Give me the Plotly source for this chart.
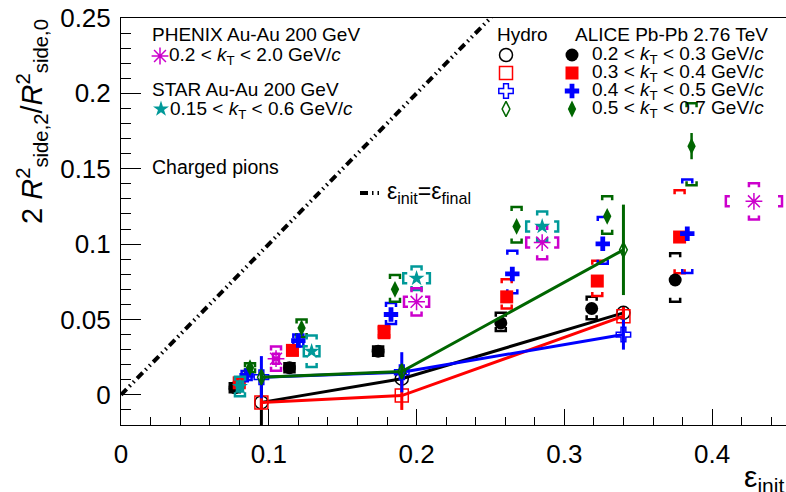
import plotly.graph_objects as go

# ---------------- data ----------------
# ALICE Pb-Pb 2.76 TeV (filled markers), four kT bins
alice_labels = ["0.2 < <i>k</i><sub>T</sub> < 0.3 GeV/<i>c</i>",
                "0.3 < <i>k</i><sub>T</sub> < 0.4 GeV/<i>c</i>",
                "0.4 < <i>k</i><sub>T</sub> < 0.5 GeV/<i>c</i>",
                "0.5 < <i>k</i><sub>T</sub> < 0.7 GeV/<i>c</i>"]
alice_kt1_x = [0.077, 0.114, 0.174, 0.257, 0.3185, 0.375]
alice_kt1_y = [0.0047, 0.018, 0.029, 0.0477, 0.0573, 0.0762]
alice_kt1_stat = [0.001, 0.001, 0.001, 0.002, 0.002, 0.003]
alice_kt1_sys_up = [0.003, 0.003, 0.003, 0.0067, 0.0077, 0.0178]
alice_kt1_sys_dn = [0.003, 0.003, 0.003, 0.0053, 0.0071, 0.0144]

alice_kt2_x = [0.080, 0.116, 0.178, 0.261, 0.3223, 0.378]
alice_kt2_y = [0.008, 0.0295, 0.0417, 0.065, 0.0755, 0.1047]
alice_kt2_stat = [0.001, 0.001, 0.001, 0.002, 0.002, 0.003]
alice_kt2_sys_up = [0.003, 0.003, 0.004, 0.0117, 0.0134, 0.031]
alice_kt2_sys_dn = [0.003, 0.003, 0.004, 0.0077, 0.010, 0.024]

alice_kt3_x = [0.085, 0.120, 0.1827, 0.2648, 0.326, 0.3832]
alice_kt3_y = [0.0129, 0.036, 0.0533, 0.0802, 0.1002, 0.1069]
alice_kt3_stat = [0.001, 0.001, 0.002, 0.002, 0.003, 0.004]
alice_kt3_sys_up = [0.003, 0.004, 0.0077, 0.0154, 0.0178, 0.036]
alice_kt3_sys_dn = [0.003, 0.004, 0.0063, 0.0128, 0.0133, 0.026]

alice_kt4_x = [0.0873, 0.1222, 0.1854, 0.2677, 0.329, 0.3861]
alice_kt4_y = [0.018, 0.0444, 0.070, 0.1117, 0.1184, 0.165]
alice_kt4_stat = [0.001, 0.002, 0.002, 0.003, 0.003, 0.0087]
alice_kt4_sys_up = [0.003, 0.0056, 0.0095, 0.013, 0.0133, 0.0285]
alice_kt4_sys_dn = [0.003, 0.006, 0.0083, 0.0107, 0.0115, 0.026]

# Hydro (open markers + lines)
hydro_x = [0.095, 0.19, 0.34]
hydro_kt1_y = [-0.005, 0.0107, 0.0544]
hydro_kt1_err = [0.02, 0.004, 0.004]
hydro_kt2_y = [-0.005, -0.0005, 0.0522]
hydro_kt2_err = [0.005, 0.0095, 0.006]
hydro_kt3_y = [0.0117, 0.015, 0.040]
hydro_kt3_err = [0.014, 0.0133, 0.010]
hydro_kt4_y = [0.0117, 0.0155, 0.0962]
hydro_kt4_err = [0.004, 0.004, 0.030]

# PHENIX Au-Au 200 GeV
phenix_x = [0.1049, 0.200, 0.285, 0.4283]
phenix_y = [0.024, 0.0617, 0.101, 0.1284]
phenix_xsys = [0.002, 0.0085, 0.0108, 0.019]
phenix_ysys = [0.008, 0.009, 0.011, 0.012]

# STAR Au-Au 200 GeV
star_x = [0.0805, 0.129, 0.200, 0.285]
star_y = [0.0055, 0.0289, 0.0773, 0.1117]
star_xsys = [0.002, 0.0053, 0.009, 0.0108]
star_ysys = [0.0065, 0.0105, 0.0078, 0.010]

# eps_init = eps_final reference line
eps_line_x = [0.0, 0.3]
eps_line_y = [0.0, 0.3]

x_ticks = [0, 0.1, 0.2, 0.3, 0.4]
y_ticks = [0, 0.05, 0.1, 0.15, 0.2, 0.25]

# ---------------- geometry / style ----------------
W, H = 786, 492
ML, MR, MT, MB = 121, 0, 18, 67
XR = [0, 0.45]
YR = [-0.02, 0.25]
PW, PH = W - ML - MR, H - MT - MB
XU = (XR[1] - XR[0]) / PW   # data units per pixel
YU = (YR[1] - YR[0]) / PH

FONT = "Liberation Sans, Arial, sans-serif"
BLACK, RED, BLUE, GREEN = "#000000", "#FF0000", "#0000FF", "#006600"
MAGENTA, TEAL = "#CC00CC", "#009999"


def px(x):
    return (x - ML) / PW


def py(y):
    return (H - MB - y) / PH


def ybrackets(xs, ys, up, dn, w=5, t=4):
    bx, by = [], []
    for x, y, u, d in zip(xs, ys, up, dn):
        top, bot = y + u, y - d
        bx += [x - w * XU, x - w * XU, x + w * XU, x + w * XU, None]
        by += [top - t * YU, top, top, top - t * YU, None]
        bx += [x - w * XU, x - w * XU, x + w * XU, x + w * XU, None]
        by += [bot + t * YU, bot, bot, bot + t * YU, None]
    return bx, by


def xbrackets(xs, ys, xsys, h=5, t=4):
    bx, by = [], []
    for x, y, s in zip(xs, ys, xsys):
        l, r = x - s, x + s
        bx += [l + t * XU, l, l, l + t * XU, None]
        by += [y - h * YU, y - h * YU, y + h * YU, y + h * YU, None]
        bx += [r - t * XU, r, r, r - t * XU, None]
        by += [y - h * YU, y - h * YU, y + h * YU, y + h * YU, None]
    return bx, by


fig = go.Figure()

# reference line
fig.add_trace(go.Scatter(x=eps_line_x, y=eps_line_y, mode="lines",
                         line=dict(color="black", width=4,
                                   dash="8px,4px,1.5px,4px,1.5px,4px"),
                         hoverinfo="skip"))

alice = [
    (alice_kt1_x, alice_kt1_y, alice_kt1_stat, alice_kt1_sys_up, alice_kt1_sys_dn, BLACK, "circle", 13),
    (alice_kt2_x, alice_kt2_y, alice_kt2_stat, alice_kt2_sys_up, alice_kt2_sys_dn, RED, "square", 13),
    (alice_kt3_x, alice_kt3_y, alice_kt3_stat, alice_kt3_sys_up, alice_kt3_sys_dn, BLUE, "cross", 12),
    (alice_kt4_x, alice_kt4_y, alice_kt4_stat, alice_kt4_sys_up, alice_kt4_sys_dn, GREEN, "diamond-tall", 12),
]
for xs, ys, st, su, sd, col, sym, sz in alice:
    bx, by = ybrackets(xs, ys, su, sd)
    fig.add_trace(go.Scatter(x=bx, y=by, mode="lines",
                             line=dict(color=col, width=2.5), hoverinfo="skip"))
for xs, ys, st, su, sd, col, sym, sz in alice:
    fig.add_trace(go.Scatter(x=xs, y=ys, mode="markers",
                             marker=dict(symbol=sym, size=sz, color=col,
                                         line=dict(width=0)),
                             error_y=dict(type="data", array=st, color=col,
                                          thickness=2.5, width=0)))

# PHENIX / STAR
for xs, ys, xsy, ysy, col in [(star_x, star_y, star_xsys, star_ysys, TEAL),
                              (phenix_x, phenix_y, phenix_xsys, phenix_ysys, MAGENTA)]:
    bx, by = ybrackets(xs, ys, ysy, ysy)
    bx2, by2 = xbrackets(xs, ys, xsy)
    fig.add_trace(go.Scatter(x=bx + bx2, y=by + by2, mode="lines",
                             line=dict(color=col, width=2.5), hoverinfo="skip"))
fig.add_trace(go.Scatter(x=star_x, y=star_y, mode="markers",
                         marker=dict(symbol="star", size=12, color=TEAL, line=dict(width=0))))
fig.add_trace(go.Scatter(x=phenix_x, y=phenix_y, mode="markers",
                         marker=dict(symbol="asterisk-open", size=14, color=MAGENTA,
                                     line=dict(color=MAGENTA, width=1.5))))

# Hydro
hydro = [
    (hydro_kt1_y, hydro_kt1_err, BLACK, "circle-open", 13),
    (hydro_kt2_y, hydro_kt2_err, RED, "square-open", 13),
    (hydro_kt3_y, hydro_kt3_err, BLUE, "cross-open", 12),
    (hydro_kt4_y, hydro_kt4_err, GREEN, "diamond-tall-open", 11),
]
for ys, er, col, sym, sz in hydro:
    fig.add_trace(go.Scatter(x=hydro_x, y=ys, mode="lines+markers",
                             line=dict(color=col, width=3),
                             marker=dict(symbol=sym, size=sz, color=col,
                                         line=dict(color=col, width=1.5)),
                             error_y=dict(type="data", array=er, color=col,
                                          thickness=3, width=0)))

# ---------------- legend (markers on a pixel overlay axis) ----------------
leg_markers = [
    (160, 56, "asterisk-open", 14, MAGENTA),
    (161, 109, "star", 12, TEAL),
    (506, 55, "circle-open", 13, BLACK),
    (506, 73, "square-open", 13, RED),
    (506, 91, "cross-open", 12, BLUE),
    (506, 109, "diamond-tall-open", 11, GREEN),
    (572, 55, "circle", 13, BLACK),
    (572, 73, "square", 13, RED),
    (572, 91, "cross", 12, BLUE),
    (572, 109, "diamond-tall", 12, GREEN),
]
for x, y, sym, sz, col in leg_markers:
    open_ = sym.endswith("open")
    fig.add_trace(go.Scatter(x=[x], y=[y], xaxis="x2", yaxis="y2", mode="markers",
                             marker=dict(symbol=sym, size=sz, color=col,
                                         line=dict(color=col, width=1.5 if open_ else 0))))
fig.add_trace(go.Scatter(x=[360, 383], y=[193, 193], xaxis="x2", yaxis="y2", mode="lines",
                         line=dict(color="black", width=4,
                                   dash="8px,4px,1.5px,4px,1.5px,4px")))

ann = []


def text(t, x, y, size=19, xanchor="left", angle=0):
    ann.append(dict(text=t, x=px(x), y=py(y), xref="paper", yref="paper",
                    xanchor=xanchor, yanchor="middle", showarrow=False,
                    textangle=angle, font=dict(family=FONT, size=size, color="black")))


text("PHENIX Au-Au 200 GeV", 150, 35)
text("0.2 < <i>k</i><sub>T</sub> < 2.0 GeV/<i>c</i>", 167, 56)
text("STAR Au-Au 200 GeV", 150, 89)
text("0.15 < <i>k</i><sub>T</sub> < 0.6 GeV/<i>c</i>", 168, 110)
text("Charged pions", 150, 167, size=19.5)
text("ε<sub>init</sub>=ε<sub>final</sub>", 385, 193, size=23)
text("Hydro", 495, 35)
text("ALICE Pb-Pb 2.76 TeV", 573, 35)
for i, lab in enumerate(alice_labels):
    text(lab, 590, 55 + 18 * i)

# axis titles
text("ε<sub>init</sub>", 742, 478, size=30)
text("2 <i>R</i><sup>2</sup><sub>side,2</sub>/<i>R</i><sup>2</sup><sub>side,0</sub>",
     32, 122, size=29, xanchor="center", angle=-90)

axis_common = dict(showgrid=False, zeroline=False, showline=True, linecolor="black",
                   linewidth=1, ticks="inside", tickcolor="black", tickwidth=1,
                   tickfont=dict(family=FONT, size=26, color="black"))

fig.update_layout(
    width=W, height=H, margin=dict(l=ML, r=MR, t=MT, b=MB),
    paper_bgcolor="white", plot_bgcolor="white", showlegend=False,
    annotations=ann,
    xaxis=dict(range=XR, tickvals=x_ticks, ticktext=[str(v) for v in x_ticks],
               ticklen=16, mirror=True, ticklabelstandoff=6,
               minor=dict(dtick=0.02, ticklen=8, ticks="inside", tickcolor="black",
                          showgrid=False), **axis_common),
    yaxis=dict(range=YR, tickvals=y_ticks, ticktext=[str(v) for v in y_ticks],
               ticklen=20, ticklabelstandoff=4,
               minor=dict(dtick=0.01, ticklen=10, ticks="inside", tickcolor="black",
                          showgrid=False), **axis_common),
    xaxis2=dict(range=[ML, W - MR], overlaying="x", anchor="y2", visible=False),
    yaxis2=dict(range=[H - MB, MT], overlaying="y", anchor="x2", visible=False),
)

fig.write_html("out.html", config={"displayModeBar": False},
               post_script="document.body.style.margin='0';document.body.style.overflow='hidden';")
